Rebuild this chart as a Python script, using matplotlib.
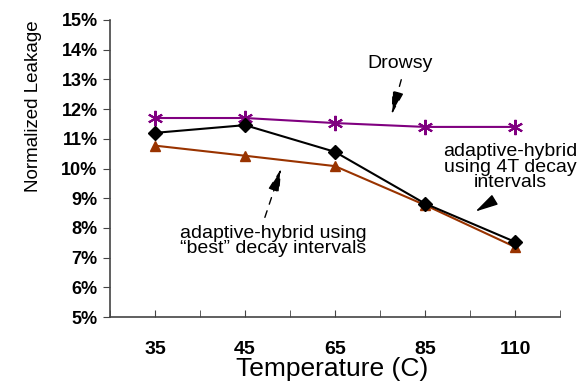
import matplotlib.pyplot as plt
import numpy as np

plt.rcParams['font.family'] = ['Liberation Sans', 'DejaVu Sans']

temps = ['35', '45', '65', '85', '110']
drowsy = [11.7, 11.7, 11.53, 11.4, 11.4]
hybrid_4t = [11.2, 11.46, 10.56, 8.82, 7.53]
hybrid_best = [10.77, 10.43, 10.08, 8.77, 7.36]
yticks = [5, 6, 7, 8, 9, 10, 11, 12, 13, 14, 15]

fig = plt.figure(figsize=(5.88, 3.83), dpi=100)
ax = fig.add_axes([110/588, 1-317/383, 450/588, 297/383])

x = np.arange(len(temps))
ax.plot(x, drowsy, color='#800080', lw=1.5, marker=(6, 2, 0), ms=11, mew=1.5)
ax.plot(x, hybrid_best, color='#993300', lw=1.5, marker='^', ms=7)
ax.plot(x, hybrid_4t, color='black', lw=1.5, marker='D', ms=7)

ax.set_xlim(-0.5, len(temps) - 0.5)
ax.set_ylim(5, 15)
ax.set_yticks(yticks)
ax.set_yticklabels([f'{v}%' for v in yticks], fontweight='bold', fontsize=13)
ax.set_xticks(x)
ax.set_xticklabels(temps, fontweight='bold', fontsize=14)
ax.set_xticks(np.arange(-0.5, len(temps), 1), minor=True)
ax.tick_params(axis='x', which='both', direction='in', length=5, pad=17, colors='#444444', labelcolor='black')
ax.tick_params(axis='y', direction='out', length=5, pad=4, colors='#444444', labelcolor='black')

for s in ['top', 'right']:
    ax.spines[s].set_visible(False)
for s in ['left', 'bottom']:
    ax.spines[s].set_color('#444444')
    ax.spines[s].set_linewidth(1.2)

# pixel positions -> figure fraction
def fp(px, py):
    return (px / 588, 1 - py / 383)

fig.text(*fp(34, 106), 'Normalized Leakage', rotation=90, ha='center', va='center', fontsize=13.5)
fig.text(*fp(332, 369), 'Temperature (C)', ha='center', va='center', fontsize=19)

arrow = '-|>,head_length=1.4,head_width=0.35'

ax.annotate('Drowsy', xy=fp(400, 64), xycoords='figure fraction',
            ha='center', va='center', fontsize=14)
ax.annotate('', xy=fp(391, 117), xycoords='figure fraction',
            xytext=fp(402, 77), textcoords='figure fraction',
            arrowprops=dict(arrowstyle=arrow, color='black', lw=1, ls=(0, (5, 5))))

ax.annotate('adaptive-hybrid\nusing 4T decay\nintervals', xy=fp(510, 167), xycoords='figure fraction',
            ha='center', va='center', fontsize=14, linespacing=0.9)
ax.annotate('', xy=fp(473, 213), xycoords='figure fraction',
            xytext=fp(496, 199), textcoords='figure fraction',
            arrowprops=dict(arrowstyle=arrow, color='black', lw=1))

ax.annotate('adaptive-hybrid using\n\u201cbest\u201d decay intervals', xy=fp(273, 241), xycoords='figure fraction',
            ha='center', va='center', fontsize=14, linespacing=0.9)
ax.annotate('', xy=fp(282, 166), xycoords='figure fraction',
            xytext=fp(264, 220), textcoords='figure fraction',
            arrowprops=dict(arrowstyle=arrow, color='black', lw=1, ls=(0, (5, 5))))

fig.savefig('out.png', dpi=100)
